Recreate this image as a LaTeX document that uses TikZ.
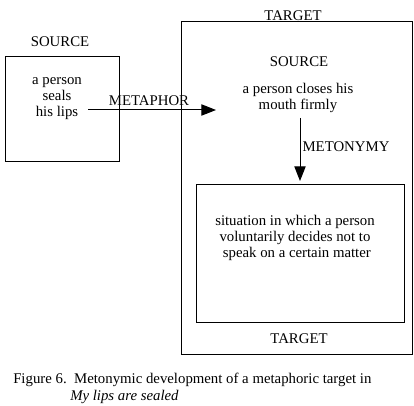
\documentclass[tikz,border=0pt]{standalone}
\usepackage{fontspec}
\setmainfont{Liberation Serif}
\usetikzlibrary{arrows.meta}
\begin{document}
\begin{tikzpicture}[x=0.75pt,y=-0.75pt,
  box/.style={draw,line width=0.75pt,inner sep=0pt,anchor=north west},
  txt/.style={inner sep=0pt,align=center,font=\fontsize{11.1}{12}\selectfont},
  conn/.style={line width=0.75pt,-{Triangle[length=11pt,width=8.5pt]}}]
\useasboundingbox (0,0) rectangle (414,406);
\node[box,minimum width=114*0.75pt,minimum height=105*0.75pt] (srcbox) at (5,56) {};
\node[box,minimum width=231*0.75pt,minimum height=333*0.75pt] (tgtbox) at (181,21) {};
\node[box,minimum width=208*0.75pt,minimum height=138*0.75pt] (inbox) at (196,184) {};
\node[txt,anchor=base] (tgttop) at (293,20.5) {TARGET};
\node[txt] (srclabel) at (60,42) {SOURCE};
\node[txt] (srctext) at (57,99) {a person\\seals\\his lips};
\node[txt] (insrc) at (299,62) {SOURCE};
\node[txt] (intext) at (298,98) {a person closes his\\mouth firmly};
\node[txt] (tgttext) at (295,238) {situation in which a person\\voluntarily decides not to\\\ speak on a certain matter};
\node[txt] (tgtbot) at (299,339) {TARGET};
\node[txt] (metaphor) at (149,101) {METAPHOR};
\node[txt] (metonymy) at (346,147) {METONYMY};
\coordinate (a1) at (88,110);
\coordinate (a2) at (216,110);
\coordinate (b1) at (300,118);
\coordinate (b2) at (300,181);
\draw[conn] (a1) -- (a2);
\draw[conn] (b1) -- (b2);
\node[txt,anchor=west] (cap1) at (13,380) {Figure 6.\ \ Metonymic development of a metaphoric target in};
\node[txt,anchor=west,font=\fontsize{11.1}{12}\selectfont\itshape] (cap2) at (70,397) {My lips are sealed};
\end{tikzpicture}
\end{document}
